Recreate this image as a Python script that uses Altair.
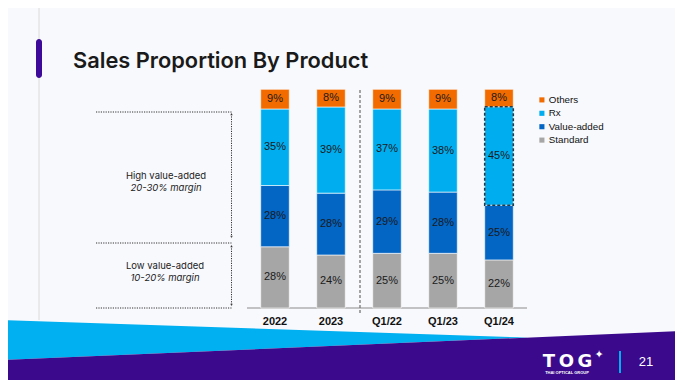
import altair as alt
import pandas as pd

# ---------------- data ----------------
periods = ["2022", "2023", "Q1/22", "Q1/23", "Q1/24"]
standard = [28, 24, 25, 25, 22]
value_added = [28, 28, 29, 28, 25]
rx = [35, 39, 37, 38, 45]
others = [9, 8, 9, 9, 8]
segments = ["Standard", "Value-added", "Rx", "Others"]
legend_order = ["Others", "Rx", "Value-added", "Standard"]
highlight_period = "Q1/24"
highlight_segment = "Rx"
title_text = "Sales Proportion By Product"
band_labels = [("High value-added", "20-30% margin"), ("Low value-added", "10-20% margin")]
page_number = "21"

# ---------------- styles ----------------
seg_colors = ["#F26B00", "#00AEEF", "#0365C4", "#A6A6A6"]
BG = "#F8F9FD"
PURPLE = "#3B0A8C"
LIGHTBLUE = "#00B0F0"
O = 8  # page margin offset: chart px = reference px - 8


def p(v):
    return v - O


rows = []
for i, per in enumerate(periods):
    vals = [standard[i], value_added[i], rx[i], others[i]]
    tot = sum(vals)
    c = 0
    for s, v in zip(segments, vals):
        y0 = c / tot
        c += v
        y1 = c / tot
        rows.append(dict(period=per, segment=s, value=v, y0=y0, y1=y1,
                         mid=(y0 + y1) / 2, label=f"{v}%"))
df = pd.DataFrame(rows)
one = pd.DataFrame({"k": [0]})

xs = alt.Scale(domain=periods, range=[p(247), p(527)], paddingInner=0.49, paddingOuter=0.245)
ys = alt.Scale(domain=[0, 1], range=[p(308), p(89.3)], nice=False, zero=False)

X = alt.X("period:N", scale=xs, axis=None)

bars = alt.Chart(df).mark_bar(stroke="white", strokeWidth=0.6).encode(
    x=X,
    y=alt.Y("y0:Q", scale=ys, axis=None),
    y2="y1:Q",
    color=alt.Color(
        "segment:N",
        scale=alt.Scale(domain=legend_order, range=seg_colors),
        legend=alt.Legend(
            orient="none", legendX=p(537), legendY=p(95), title=None,
            symbolType="square", symbolSize=26, symbolStrokeWidth=0,
            labelFont="Liberation Sans", labelFontSize=9.8, labelColor="#111111",
            rowPadding=2.4, labelOffset=2, padding=0,
        ),
    ),
)

seg_labels = alt.Chart(df).mark_text(
    font="Liberation Sans", fontSize=11, color="#1a1a1a"
).encode(x=X, y=alt.Y("mid:Q", scale=ys, axis=None), text="label:N")

hl = df[(df.period == highlight_period) & (df.segment == highlight_segment)]
highlight = alt.Chart(hl).mark_bar(
    fillOpacity=0, stroke="#1E3A4C", strokeWidth=1.6, strokeDash=[3, 2]
).encode(x=X, y=alt.Y("y0:Q", scale=ys, axis=None), y2="y1:Q")

xlabels = alt.Chart(pd.DataFrame({"period": periods})).mark_text(
    font="Liberation Sans", fontWeight="bold", fontSize=11, color="#111111"
).encode(x=X, y=alt.value(p(322)), text="period:N")

axis_line = alt.Chart(one).mark_rule(color="#8C8C8C", strokeWidth=1.2).encode(
    x=alt.value(p(247)), x2=alt.value(p(527)), y=alt.value(p(308)))

divider = alt.Chart(one).mark_rule(color="#777777", strokeWidth=1.3, strokeDash=[3, 2]).encode(
    x=alt.value(p(360)), y=alt.value(p(90)), y2=alt.value(p(313)))

bar_group = alt.layer(bars, highlight, seg_labels, xlabels)

# ---------------- slide decoration ----------------
ident_x = alt.Scale(domain=[0, 667], range=[0, 667], nice=False, zero=False)
ident_y = alt.Scale(domain=[0, 372], range=[0, 372], nice=False, zero=False)

lb_df = pd.DataFrame({"ax": [p(0), p(528)], "ay": [p(320), p(337.6)], "ay2": [p(360), p(337.6)]})
lightblue = alt.Chart(lb_df).mark_area(color=LIGHTBLUE, interpolate="linear").encode(
    x=alt.X("ax:Q", scale=ident_x, axis=None),
    y=alt.Y("ay:Q", scale=ident_y, axis=None), y2="ay2:Q")

pu_df = pd.DataFrame({"ax": [p(0), p(683)], "ay": [p(360), p(331)], "ay2": [p(390), p(390)]})
purple = alt.Chart(pu_df).mark_area(color=PURPLE, interpolate="linear").encode(
    x=alt.X("ax:Q", scale=ident_x, axis=None),
    y=alt.Y("ay:Q", scale=ident_y, axis=None), y2="ay2:Q")

left_line = alt.Chart(one).mark_rule(color="#DADADA", strokeWidth=1).encode(
    x=alt.value(p(39)), y=alt.value(0), y2=alt.value(p(320)))

accent = alt.Chart(one).mark_rect(color="#3D0A99", cornerRadius=3).encode(
    x=alt.value(p(36)), x2=alt.value(p(42)), y=alt.value(p(39)), y2=alt.value(p(78)))

title = alt.Chart(one).mark_text(
    text=title_text, font="Inter", fontWeight=600, fontSize=21.8, color="#1a1a1a",
    align="left", baseline="alphabetic").encode(x=alt.value(p(73)), y=alt.value(p(68)))

ann = []
for yy in [112, 243, 308]:
    ann.append(alt.Chart(one).mark_rule(color="#333333", strokeWidth=1, strokeDash=[1.2, 1.2]).encode(
        x=alt.value(p(96)), x2=alt.value(p(231.5)), y=alt.value(p(yy))))
for ya, yb in [(114, 237), (246, 305)]:
    ann.append(alt.Chart(one).mark_rule(color="#333333", strokeWidth=1, strokeDash=[1.2, 1.2]).encode(
        x=alt.value(p(231.5)), y=alt.value(p(ya)), y2=alt.value(p(yb))))
    ann.append(alt.Chart(one).mark_point(shape="triangle-up", filled=True, size=7, color="#333333").encode(
        x=alt.value(p(231.5)), y=alt.value(p(ya))))
    ann.append(alt.Chart(one).mark_point(shape="triangle-down", filled=True, size=7, color="#333333").encode(
        x=alt.value(p(231.5)), y=alt.value(p(yb))))

for (main, sub), (cx, cy) in zip(band_labels, [(166, 176), (165, 266)]):
    ann.append(alt.Chart(one).mark_text(text=main, font="Inter", fontSize=9.5, color="#222222").encode(
        x=alt.value(p(cx)), y=alt.value(p(cy))))
    ann.append(alt.Chart(one).mark_text(text=sub, font="Inter", fontSize=9.5, fontStyle="italic",
                                        color="#222222").encode(
        x=alt.value(p(cx)), y=alt.value(p(cy + 11.5))))

logo = []
for ch, cx in zip("TOG", [549, 566.5, 585]):
    logo.append(alt.Chart(one).mark_text(text=ch, font="DejaVu Sans", fontWeight="bold", fontSize=18,
                                         color="white").encode(x=alt.value(p(cx)), y=alt.value(p(361.5))))
logo.append(alt.Chart(one).mark_text(text="\u2726", font="DejaVu Sans", fontSize=11, color="white").encode(
    x=alt.value(p(599)), y=alt.value(p(355))))
logo.append(alt.Chart(one).mark_text(text="THAI OPTICAL GROUP", font="Liberation Sans", fontWeight="bold",
                                     fontSize=4, color="white").encode(x=alt.value(p(567)), y=alt.value(p(373))))
logo.append(alt.Chart(one).mark_rule(color=LIGHTBLUE, strokeWidth=2).encode(
    x=alt.value(p(620)), y=alt.value(p(351)), y2=alt.value(p(373))))
logo.append(alt.Chart(one).mark_text(text=page_number, font="Liberation Sans", fontSize=13,
                                     color="white").encode(x=alt.value(p(646)), y=alt.value(p(362))))

chart = alt.layer(
    lightblue, purple, left_line, accent, title, *ann, axis_line, divider, bar_group, *logo
).resolve_scale(x="independent", y="independent").properties(
    width=667, height=372, padding=0,
    autosize=alt.AutoSizeParams(type="none"),
    background=BG,
).configure_view(stroke=None)

chart.save("out.html", embed_options={"renderer": "svg", "actions": False})
